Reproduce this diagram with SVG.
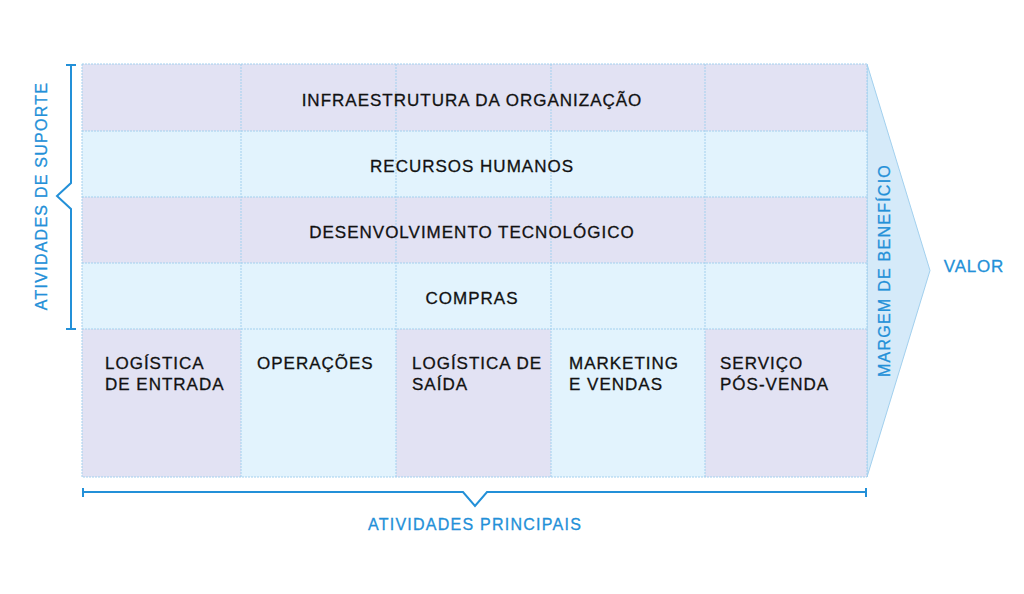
<svg xmlns="http://www.w3.org/2000/svg" width="1024" height="594" viewBox="0 0 1024 594">
<style>
.p{fill:#e2e2f3}
.b{fill:#e2f3fd}
.g{stroke:#a3d0ee;stroke-width:1;stroke-dasharray:2 1;fill:none}
.t{font-family:"Liberation Sans",Arial,sans-serif;font-size:17px;letter-spacing:1px;fill:#111;stroke:#111;stroke-width:0.3px}
.c{text-anchor:middle}
.bl{font-family:"Liberation Sans",Arial,sans-serif;font-size:16px;letter-spacing:1.25px;fill:#2390d8;stroke:#2390d8;stroke-width:0.3px;text-anchor:middle}
.br{stroke:#2390d8;stroke-width:2;fill:none}
</style>
<rect width="1024" height="594" fill="#fff"/>
<g id="margin-arrow">
<polygon points="867,64 930,270.5 867,477" fill="#d5eaf9" stroke="#a2d0ee" stroke-width="1"/>
<text class="bl" transform="translate(890,270.5) rotate(-90)">MARGEM DE BENEFÍCIO</text>
</g>
<g id="support-rows">
<rect class="p" x="82" y="64" width="785" height="67"/>
<rect class="b" x="82" y="131" width="785" height="66"/>
<rect class="p" x="82" y="197" width="785" height="66"/>
<rect class="b" x="82" y="263" width="785" height="66"/>
</g>
<g id="primary-cells">
<rect class="p" x="82" y="329" width="159" height="148"/>
<rect class="b" x="241" y="329" width="155" height="148"/>
<rect class="p" x="396" y="329" width="155" height="148"/>
<rect class="b" x="551" y="329" width="154" height="148"/>
<rect class="p" x="705" y="329" width="162" height="148"/>
</g>
<g id="grid">
<rect class="g" x="82" y="64" width="785" height="413"/>
<path class="g" d="M82,131H867M82,197H867M82,263H867M82,329H867M241,64V477M396,64V477M551,64V477M705,64V477"/>
</g>
<g id="infraestrutura"><text class="t c" x="472" y="106">INFRAESTRUTURA DA ORGANIZAÇÃO</text></g>
<g id="recursos-humanos"><text class="t c" x="472" y="172">RECURSOS HUMANOS</text></g>
<g id="desenvolvimento"><text class="t c" x="472" y="238">DESENVOLVIMENTO TECNOLÓGICO</text></g>
<g id="compras"><text class="t c" x="472" y="304">COMPRAS</text></g>
<g id="logistica-entrada"><text class="t" x="105" y="369">LOGÍSTICA</text><text class="t" x="105" y="390">DE ENTRADA</text></g>
<g id="operacoes"><text class="t" x="257" y="369">OPERAÇÕES</text></g>
<g id="logistica-saida"><text class="t" x="412" y="369">LOGÍSTICA DE</text><text class="t" x="412" y="390">SAÍDA</text></g>
<g id="marketing"><text class="t" x="569" y="369">MARKETING</text><text class="t" x="569" y="390">E VENDAS</text></g>
<g id="servico"><text class="t" x="720" y="369">SERVIÇO</text><text class="t" x="720" y="390">PÓS-VENDA</text></g>
<g id="connectors">
<path class="br" d="M66,65H76M71,65V183L57,196L71,209V329M66,329H76"/>
<path class="br" d="M83,488V497M83,492H463L475,506L487,492H866M866,488V497"/>
</g>
<g id="labels">
<text class="bl" transform="translate(47,196) rotate(-90)">ATIVIDADES DE SUPORTE</text>
<text class="bl" x="475" y="530">ATIVIDADES PRINCIPAIS</text>
<text class="bl" x="974" y="272" style="font-size:17px;letter-spacing:0.8px">VALOR</text>
</g>
</svg>
